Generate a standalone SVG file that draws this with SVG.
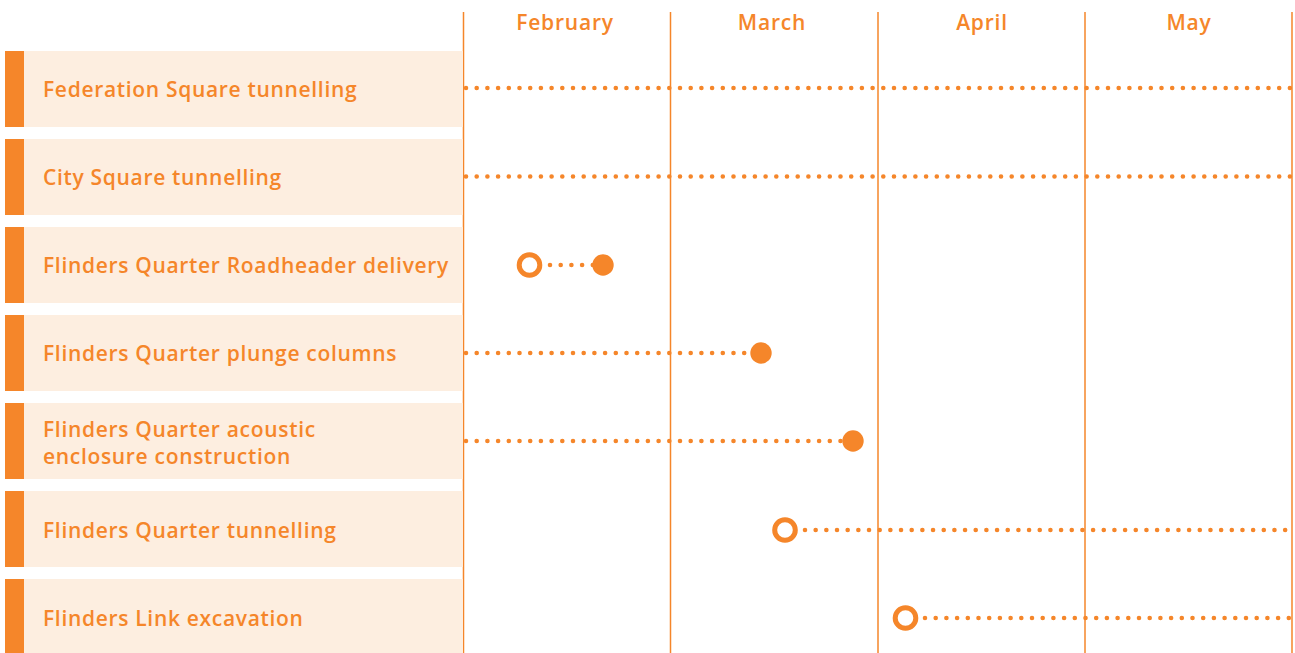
<svg xmlns="http://www.w3.org/2000/svg" width="1295" height="653" viewBox="0 0 1295 653">
<style>
.bg{fill:#FDEEE0}
.bar{fill:#F5862A}
.lbl{font-family:"Open Sans","Liberation Sans",sans-serif;font-weight:600;font-size:21px;letter-spacing:0.68px;fill:#F5862A}
.mon{font-family:"Open Sans","Liberation Sans",sans-serif;font-weight:600;font-size:21px;letter-spacing:0.8px;fill:#F5862A;text-anchor:middle}
.grid{stroke:#F5862A;stroke-width:1.5}
.dots{stroke:#F5862A;stroke-width:4.6;stroke-linecap:round;stroke-dasharray:0 10.7;fill:none}
.open{fill:#fff;stroke:#F5862A;stroke-width:5}
.fill{fill:#F5862A}
</style>
<rect width="1295" height="653" fill="#fff"/>
<g id="grid">
<line class="grid" x1="463.5" y1="12" x2="463.5" y2="653"/>
<line class="grid" x1="670.5" y1="12" x2="670.5" y2="653"/>
<line class="grid" x1="878" y1="12" x2="878" y2="653"/>
<line class="grid" x1="1085" y1="12" x2="1085" y2="653"/>
<line class="grid" x1="1292" y1="12" x2="1292" y2="653"/>
</g>
<g id="months">
<text class="mon" x="565" y="29.5">February</text>
<text class="mon" x="772" y="29.5">March</text>
<text class="mon" x="982" y="29.5">April</text>
<text class="mon" x="1189" y="29.5">May</text>
</g>
<g id="row1"><rect class="bg" x="5" y="51" width="458" height="76"/><rect class="bar" x="5" y="51" width="19" height="76"/><text class="lbl" x="43" y="97">Federation Square tunnelling</text></g>
<g id="row2"><rect class="bg" x="5" y="139" width="458" height="76"/><rect class="bar" x="5" y="139" width="19" height="76"/><text class="lbl" x="43" y="185">City Square tunnelling</text></g>
<g id="row3"><rect class="bg" x="5" y="227" width="458" height="76"/><rect class="bar" x="5" y="227" width="19" height="76"/><text class="lbl" x="43" y="273">Flinders Quarter Roadheader delivery</text></g>
<g id="row4"><rect class="bg" x="5" y="315" width="458" height="76"/><rect class="bar" x="5" y="315" width="19" height="76"/><text class="lbl" x="43" y="361">Flinders Quarter plunge columns</text></g>
<g id="row5"><rect class="bg" x="5" y="403" width="458" height="76"/><rect class="bar" x="5" y="403" width="19" height="76"/><text class="lbl" x="43" y="437">Flinders Quarter acoustic</text><text class="lbl" x="43" y="464">enclosure construction</text></g>
<g id="row6"><rect class="bg" x="5" y="491" width="458" height="76"/><rect class="bar" x="5" y="491" width="19" height="76"/><text class="lbl" x="43" y="538">Flinders Quarter tunnelling</text></g>
<g id="row7"><rect class="bg" x="5" y="579" width="458" height="74"/><rect class="bar" x="5" y="579" width="19" height="74"/><text class="lbl" x="43" y="626">Flinders Link excavation</text></g>
<g id="connectors">
<line class="dots" x1="466" y1="88" x2="1291" y2="88"/>
<line class="dots" x1="466" y1="176.5" x2="1291" y2="176.5"/>
<line class="dots" x1="550" y1="265" x2="600" y2="265"/>
<line class="dots" x1="466" y1="353" x2="760" y2="353"/>
<line class="dots" x1="466" y1="441" x2="852" y2="441"/>
<line class="dots" x1="805" y1="530" x2="1286" y2="530" style="stroke-dasharray:0 10.67"/>
<line class="dots" x1="925" y1="618" x2="1291" y2="618"/>
</g>
<g id="markers">
<circle class="open" cx="529.5" cy="265" r="10.3"/>
<circle class="fill" cx="603" cy="265" r="10.7"/>
<circle class="fill" cx="761" cy="353" r="10.7"/>
<circle class="fill" cx="853" cy="441" r="10.7"/>
<circle class="open" cx="785" cy="530" r="10.3"/>
<circle class="open" cx="905.5" cy="618" r="10.3"/>
</g>
</svg>
